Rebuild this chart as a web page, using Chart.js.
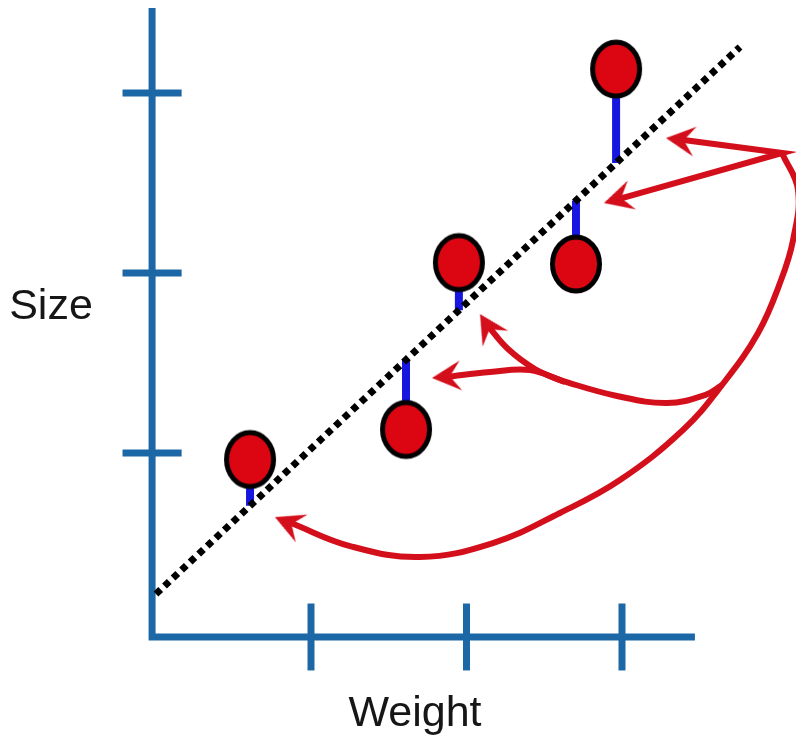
<!DOCTYPE html>
<html>
<head>
<meta charset="utf-8">
<title>Size vs Weight</title>
<script src="https://cdn.jsdelivr.net/npm/chart.js@4.4.1/dist/chart.umd.min.js"></script>
<style>
  html, body { margin: 0; padding: 0; background: #fff; }
  #wrap { width: 796px; height: 743px; }
</style>
</head>
<body>
<div id="wrap"><canvas id="grafico" width="796" height="743"></canvas></div>
<script>
// Muestras: peso (x) y tamaño (y)
const weight = [0.608, 1.611, 1.951, 2.704, 2.962];
const size = [0.964, 1.131, 2.058, 2.050, 3.133];

// Recta ajustada (extremos)
const lineWeight = [0.003, 3.759];
const lineSize = [0.217, 3.256];

// Ejes y marcas
const xTicks = [1, 2, 3];
const yTicks = [1, 2, 3];
const axisAt = -0.022;
const xAxisEnd = 3.469;
const yAxisEnd = 3.472;

// Titulos de ejes
const axisTitles = ['Weight', 'Size'];
const titleX = [1.669, -0.672];
const titleY = [-0.517, 1.744];

// Flechas (trazos)
const forkX = [3.373, 4.029, 2.971];
const forkY = [2.742, 2.667, 2.409];
const bigCurveX = [4.029, 4.132, 4.100, 4.023, 3.875, 3.643, 3.392, 2.987, 2.601, 2.170, 1.701, 1.251, 0.871];
const bigCurveY = [2.667, 2.461, 2.183, 1.961, 1.667, 1.378, 1.128, 0.850, 0.667, 0.500, 0.422, 0.483, 0.611];
const midCurveX = [3.643, 3.534, 3.289, 2.968, 2.621, 2.408, 2.151, 1.868];
const midCurveY = [1.378, 1.322, 1.278, 1.317, 1.400, 1.461, 1.450, 1.422];
const branchX = [2.633, 2.440, 2.267, 2.138];
const branchY = [1.394, 1.467, 1.578, 1.706];

// Puntas de flecha
const tipX = [3.283, 2.884, 2.087, 1.778, 0.768];
const tipY = [2.750, 2.389, 1.772, 1.417, 0.644];
const tipAngle = [187, 164, 238, 175, 203];

const AXIS_COLOR = '#1c68a6';
const RED = '#d40f1c';

const pts = (xs, ys) => xs.map((x, i) => ({ x: x, y: ys[i] }));

const slope = (lineSize[1] - lineSize[0]) / (lineWeight[1] - lineWeight[0]);
const fitted = w => lineSize[0] + (w - lineWeight[0]) * slope;

function circuloMuestra() {
    const c = document.createElement('canvas');
    c.width = 56; c.height = 64;
    const g = c.getContext('2d');
    g.beginPath();
    g.ellipse(28, 32, 23.5, 27, 0, 0, Math.PI * 2);
    g.fillStyle = '#dc0612';
    g.fill();
    g.lineWidth = 5;
    g.strokeStyle = '#000';
    g.stroke();
    return c;
}

// punta dibujada con el vértice en el centro del lienzo
function puntaFlecha() {
    const c = document.createElement('canvas');
    c.width = 64; c.height = 38;
    const g = c.getContext('2d');
    g.translate(32, 19);
    g.fillStyle = RED;
    g.beginPath();
    g.moveTo(0, 0);
    g.lineTo(-29, -15);
    g.lineTo(-18, 0);
    g.lineTo(-29, 15);
    g.closePath();
    g.fill();
    return c;
}

function trazo(data, color, width, extra) {
    return Object.assign({
        data: data,
        showLine: true,
        borderColor: color,
        borderWidth: width,
        pointRadius: 0,
        fill: false
    }, extra || {});
}

const datasets = [];

// puntos
datasets.push({
    data: pts(weight, size),
    pointStyle: circuloMuestra(),
    pointRadius: 20,
    order: 0
});

// recta punteada
datasets.push(trazo(pts(lineWeight, lineSize), '#000', 7, { borderDash: [6.5, 5.2], order: 1 }));

// residuos
weight.forEach((w, i) => {
    datasets.push(trazo([{ x: w, y: size[i] }, { x: w, y: fitted(w) }], '#1616e0', 8, { order: 2 }));
});

// flechas
datasets.push(trazo(pts(forkX, forkY), RED, 6, { order: 3 }));
datasets.push(trazo(pts(bigCurveX, bigCurveY), RED, 6, { tension: 0.4, borderJoinStyle: 'round', order: 3 }));
datasets.push(trazo(pts(midCurveX, midCurveY), RED, 6, { tension: 0.4, borderJoinStyle: 'round', order: 3 }));
datasets.push(trazo(pts(branchX, branchY), RED, 6, { tension: 0.4, borderJoinStyle: 'round', order: 3 }));
datasets.push({
    data: pts(tipX, tipY),
    pointStyle: puntaFlecha(),
    pointRadius: 14,
    pointRotation: tipAngle,
    order: 3
});

// ejes
datasets.push(trazo([
    { x: axisAt, y: yAxisEnd },
    { x: axisAt, y: axisAt },
    { x: xAxisEnd, y: axisAt }
], AXIS_COLOR, 7, { order: 4 }));
xTicks.forEach(t => {
    datasets.push(trazo([{ x: t, y: axisAt - 0.186 }, { x: t, y: axisAt + 0.186 }], AXIS_COLOR, 7, { order: 4 }));
});
yTicks.forEach(t => {
    datasets.push(trazo([{ x: axisAt - 0.19, y: t }, { x: axisAt + 0.19, y: t }], AXIS_COLOR, 7, { order: 4 }));
});

// Plugin para los titulos de ejes
const titulos = {
    id: 'titulos',
    afterDatasetsDraw(chart) {
        const ctx = chart.ctx;
        const sx = chart.scales.x;
        const sy = chart.scales.y;
        ctx.save();
        ctx.fillStyle = '#161616';
        ctx.font = '43px "Liberation Sans", Arial, sans-serif';
        ctx.textAlign = 'center';
        ctx.textBaseline = 'alphabetic';
        axisTitles.forEach((t, i) => {
            ctx.fillText(t, sx.getPixelForValue(titleX[i]), sy.getPixelForValue(titleY[i]));
        });
        ctx.restore();
    }
};

new Chart(document.getElementById('grafico'), {
    type: 'scatter',
    data: { datasets: datasets },
    options: {
        responsive: false,
        animation: false,
        events: [],
        layout: { padding: 0, autoPadding: false },
        plugins: {
            legend: { display: false },
            tooltip: { enabled: false }
        },
        scales: {
            x: { type: 'linear', min: -1, max: 4.119, display: false },
            y: { type: 'linear', min: -0.611, max: 3.517, display: false }
        }
    },
    plugins: [titulos]
});
</script>
</body>
</html>
